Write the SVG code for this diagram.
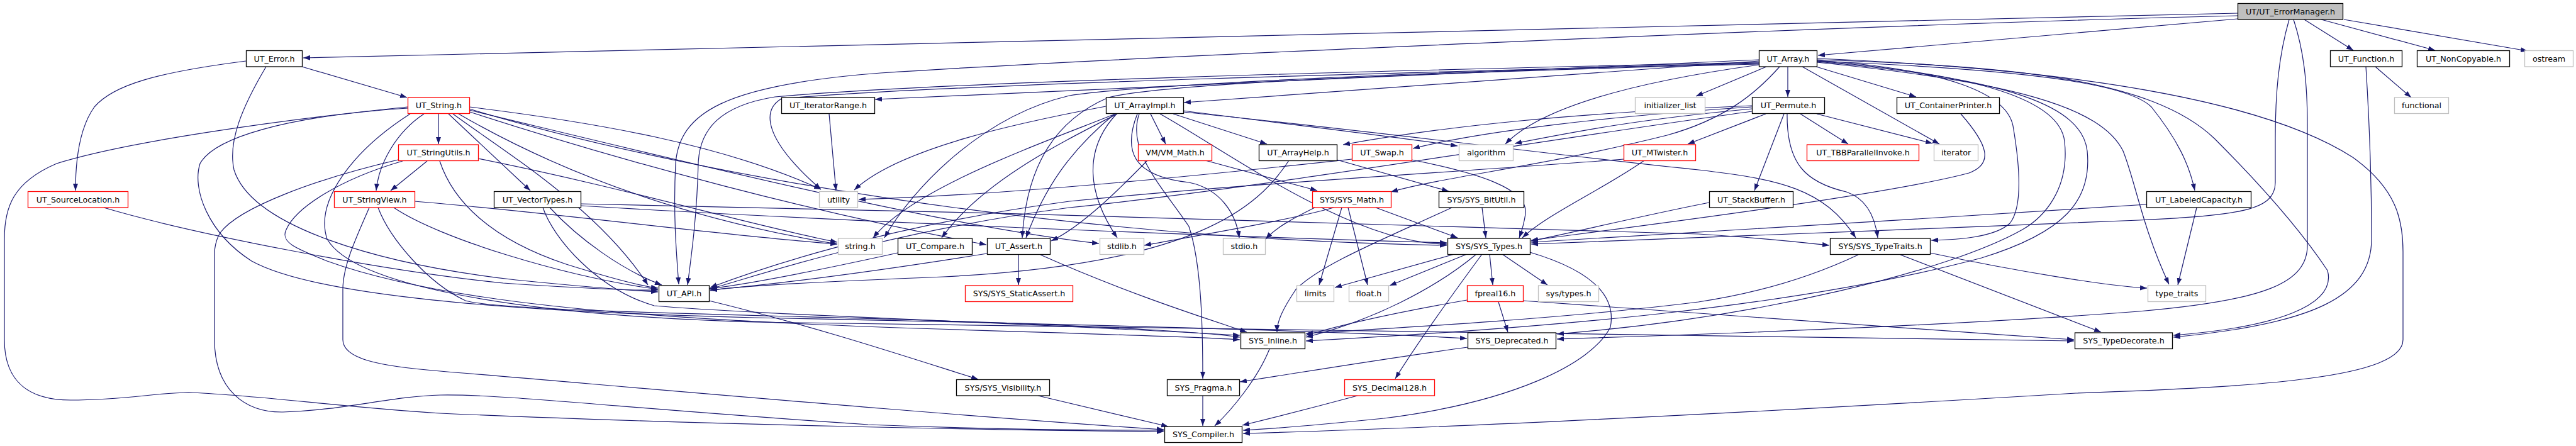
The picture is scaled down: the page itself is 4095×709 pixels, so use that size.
<svg xmlns="http://www.w3.org/2000/svg" width="4095" height="709" viewBox="0 0 4095 709">
<defs>
<marker id="a" viewBox="0 0 11 8" refX="11" refY="4" markerWidth="11" markerHeight="8" markerUnits="userSpaceOnUse" orient="auto"><path d="M0,0 L11,4 L0,8 z" fill="#191970"/></marker>
</defs>
<style>
.nd rect{fill:#fff;stroke:#000;stroke-width:1.3}
.nd.red rect{stroke:#ff0000}
.nd.ext rect{stroke:#bfbfbf}
.nd.root rect{fill:#bfbfbf}
.nd text{font-family:"DejaVu Sans","Liberation Sans",sans-serif;font-size:12.7px;text-anchor:middle;fill:#000}
#edges path{fill:none;stroke:#191970;stroke-width:1.2;marker-end:url(#a)}
</style>
<rect width="4095" height="709" fill="#fff"/>
<g id="edges">
<path d="M3557,21 L482,92"/>
<path d="M3557,25 C3000,38 1800,90 1400,116 C1150,135 1080,180 1074,260 C1070,340 1075,400 1079,452"/>
<path d="M3557,30 L2890,88"/>
<path d="M3663,31 L3741,80"/>
<path d="M3690,31 L3871,80"/>
<path d="M3726,31 L4018,81"/>
<path d="M3639,31 C3622,90 3617,150 3617,220 L3617,290 C3617,335 3560,342 3400,350 C3100,362 2700,378 2434,388"/>
<path d="M3646,31 C3662,80 3668,130 3668,200 L3668,390 C3668,450 3600,478 3400,495 C3100,518 2700,532 2475,539"/>
<path d="M480,106 L647,155"/>
<path d="M391,97 C250,115 180,135 150,170 C125,205 120,260 120,303"/>
<path d="M423,106 C385,170 362,225 372,270 C400,360 600,420 820,445 C950,458 1010,462 1046,464"/>
<path d="M3776,106 L3833,155"/>
<path d="M3761,106 C3767,200 3770,300 3770,380 C3770,470 3680,515 3455,536"/>
<path d="M2796,95 L1391,158"/>
<path d="M2796,97 L1882,163"/>
<path d="M2842,106 L2842,154"/>
<path d="M2887,106 L3046,154"/>
<path d="M2865,106 L3083,229"/>
<path d="M2808,106 L2696,153"/>
<path d="M2796,103 C2600,130 2450,170 2393,229"/>
<path d="M2796,99 C2200,112 1500,130 1232,154 C1145,168 1112,205 1110,260 C1108,340 1100,400 1093,453"/>
<path d="M2796,101 C2200,116 1500,134 1242,157 C1212,175 1212,220 1305,301"/>
<path d="M2796,100 C2300,112 1800,135 1700,152 C1560,185 1450,300 1406,378"/>
<path d="M2796,102 C2300,114 1850,132 1762,155 C1680,190 1632,260 1625,378"/>
<path d="M2888,97 C3200,110 3380,130 3420,170 C3460,220 3480,260 3489,303"/>
<path d="M2888,95 C3200,105 3420,125 3520,220 C3600,300 3660,370 3700,430 C3715,485 3620,520 3455,533"/>
<path d="M2888,93 C3300,110 3600,160 3740,250 C3810,300 3820,350 3820,400 L3820,540 C3820,600 3600,615 3300,625 C2800,655 2300,680 1976,689"/>
<path d="M2888,99 C3200,130 3340,170 3375,240 C3395,290 3405,360 3448,452"/>
<path d="M2888,96 C3100,110 3190,150 3200,200 C3212,270 3215,330 3195,355 C3170,378 3110,381 3070,382"/>
<path d="M2888,97 C3150,118 3275,160 3282,225 C3290,300 3250,345 3215,365 C3100,430 2800,505 2475,531"/>
<path d="M2888,98 C3200,125 3310,170 3318,240 C3326,320 3280,370 3150,410 C2850,490 2450,522 2076,542"/>
<path d="M2829,106 C2790,150 2740,190 2650,215 C2450,265 2300,280 2211,305"/>
<path d="M1829,181 L1853,229"/>
<path d="M1865,181 L2014,229"/>
<path d="M1881,176 C2050,198 2200,215 2317,232"/>
<path d="M1758,169 C1620,195 1430,235 1358,302"/>
<path d="M1773,181 C1650,230 1450,300 1388,378"/>
<path d="M1776,181 C1680,230 1560,290 1497,378"/>
<path d="M1772,181 C1700,240 1660,300 1631,378"/>
<path d="M1775,181 C1720,240 1730,310 1776,378"/>
<path d="M1808,181 C1785,240 1800,280 1890,290 C1940,300 1965,340 1970,378"/>
<path d="M1811,181 C1790,240 1850,300 1890,360 C1910,420 1912,520 1912,602"/>
<path d="M1844,181 C1950,240 2150,388 2300,388"/>
<path d="M1881,178 C2200,210 2500,250 2700,270 C2830,285 2900,300 2950,378"/>
<path d="M1916,255 L2094,303"/>
<path d="M1824,255 C1780,300 1720,360 1671,383"/>
<path d="M2125,254 L2303,304"/>
<path d="M2049,255 C2000,330 1900,420 1500,440 C1300,448 1160,455 1129,462"/>
<path d="M2244,254 C2350,275 2430,300 2425,340 C2422,360 2418,370 2415,378"/>
<path d="M2149,253 C1900,280 1600,310 1365,317"/>
<path d="M2836,181 L2789,303"/>
<path d="M2841,181 C2840,260 2870,290 2935,305 C2965,315 2980,340 2985,378"/>
<path d="M2862,181 L2938,229"/>
<path d="M2888,181 L3072,228"/>
<path d="M2785,168 C2500,180 2300,200 2135,230"/>
<path d="M2785,170 C2550,185 2350,210 2246,236"/>
<path d="M2785,173 C2600,190 2500,210 2408,228"/>
<path d="M2785,177 C2400,230 2000,300 1700,330 C1400,370 1200,440 1129,459"/>
<path d="M2807,181 L2683,229"/>
<path d="M2614,255 C2550,300 2460,340 2420,378"/>
<path d="M2581,253 C2300,275 2000,290 1700,320 C1400,360 1200,430 1129,457"/>
<path d="M2717,322 C2600,345 2500,370 2434,383"/>
<path d="M3492,330 L3462,453"/>
<path d="M3412,325 C3100,345 2700,370 2434,385"/>
<path d="M3117,181 C3160,230 3170,260 3130,275 C3000,310 2600,360 2434,382"/>
<path d="M1318,181 L1329,303"/>
<path d="M2133,330 L2097,453"/>
<path d="M2143,330 L2174,453"/>
<path d="M2187,330 L2317,378"/>
<path d="M2120,330 C2050,350 1900,375 1819,390"/>
<path d="M2090,330 C2060,345 2030,360 2012,380"/>
<path d="M2356,330 L2362,378"/>
<path d="M2308,330 C2200,380 2100,420 2060,460 C2040,490 2030,510 2030,528"/>
<path d="M1427,402 C1300,430 1200,450 1128,459"/>
<path d="M1619,404 L1619,453"/>
<path d="M1654,405 C1800,470 1930,510 1982,528"/>
<path d="M1569,403 C1400,430 1250,450 1129,461"/>
<path d="M2312,404 L2122,457"/>
<path d="M2332,404 L2209,454"/>
<path d="M2347,404 C2280,460 2180,510 2076,536"/>
<path d="M2356,404 C2300,480 2250,550 2218,602"/>
<path d="M2368,404 L2373,453"/>
<path d="M2388,404 L2460,453"/>
<path d="M2432,401 C2530,430 2570,470 2560,520 C2530,580 2400,640 2200,665 C2100,675 2020,682 1976,684"/>
<path d="M3068,402 C3200,430 3350,455 3413,458"/>
<path d="M3021,405 L3340,528"/>
<path d="M2954,405 C2880,440 2800,465 2700,480 C2500,505 2250,520 2076,530"/>
<path d="M2332,477 C2200,500 2120,520 2076,533"/>
<path d="M2382,480 L2397,528"/>
<path d="M2421,478 C2700,500 3000,520 3297,540"/>
<path d="M1127,478 C1300,520 1450,570 1555,603"/>
<path d="M2018,555 C2000,600 1960,650 1931,677"/>
<path d="M2333,552 C2200,570 2050,595 1971,607"/>
<path d="M1912,629 L1912,677"/>
<path d="M1650,629 L1857,678"/>
<path d="M2158,629 C2080,650 2020,665 1975,676"/>
<path d="M165,330 C300,370 600,430 800,450 C950,460 1010,462 1046,461"/>
<path d="M697,181 L697,229"/>
<path d="M674,181 C630,210 602,260 598,303"/>
<path d="M713,181 L843,303"/>
<path d="M720,181 C800,240 950,330 1030,453"/>
<path d="M746,170 C950,195 1150,230 1305,301"/>
<path d="M729,181 C900,280 1100,350 1331,388"/>
<path d="M747,178 C1000,260 1300,340 1568,389"/>
<path d="M746,175 C1100,260 1500,360 1747,387"/>
<path d="M746,173 C1100,280 1700,380 2300,390"/>
<path d="M648,170 C450,190 200,225 90,260 C20,290 7,330 7,380 L7,540 C7,610 50,636 112,636 C200,636 250,624 300,624 C400,627 550,648 700,657 C1100,675 1600,684 1850,686"/>
<path d="M648,172 C450,185 340,220 318,260 C305,300 330,370 400,415 C500,470 800,495 1200,505 C1700,515 2100,525 2332,538"/>
<path d="M652,181 C560,240 500,320 520,380 C560,450 800,500 1200,512 C2000,530 2800,535 3297,542"/>
<path d="M679,256 L621,303"/>
<path d="M633,254 C500,285 380,330 350,370 C338,390 341,410 341,440 L341,540 C341,620 390,656 450,655 C550,652 620,630 700,628 C800,626 1000,650 1380,675 C1600,684 1780,684 1850,684"/>
<path d="M640,256 C540,285 470,330 455,365 C445,385 470,395 520,415 C700,480 1000,505 1400,520 C1700,530 1900,535 1971,540"/>
<path d="M699,256 C720,320 780,380 900,420 C980,445 1020,455 1046,458"/>
<path d="M760,252 C1000,300 1200,360 1331,385"/>
<path d="M587,330 C570,370 545,420 545,460 L545,540 C545,570 600,582 700,590 C1000,615 1500,660 1850,683"/>
<path d="M601,330 C620,380 680,450 740,478 C800,495 1200,500 1500,510 C1800,520 1930,530 1971,536"/>
<path d="M626,330 C700,380 900,440 1046,460"/>
<path d="M659,320 C900,340 1150,375 1331,388"/>
<path d="M874,330 C920,380 990,430 1052,453"/>
<path d="M863,330 C880,380 950,460 1040,486 C1200,500 1600,512 1971,533"/>
<path d="M923,327 C1300,350 1900,375 2300,386"/>
<path d="M923,324 C1500,335 2400,360 2700,372 C2800,378 2860,385 2908,390"/>
</g>
<g id="n_em" class="nd root"><rect x="3557.5" y="5.5" width="167" height="25.5"/><text x="3641" y="22.5">UT/UT_ErrorManager.h</text></g>
<g id="n_error" class="nd"><rect x="391.5" y="80.5" width="89" height="25.5"/><text x="436" y="97.5">UT_Error.h</text></g>
<g id="n_array" class="nd"><rect x="2796.5" y="80.5" width="92" height="25.5"/><text x="2842.5" y="97.5">UT_Array.h</text></g>
<g id="n_function" class="nd"><rect x="3704.5" y="80.5" width="114" height="25.5"/><text x="3761.5" y="97.5">UT_Function.h</text></g>
<g id="n_noncopyable" class="nd"><rect x="3842.5" y="80.5" width="147" height="25.5"/><text x="3916" y="97.5">UT_NonCopyable.h</text></g>
<g id="n_ostream" class="nd ext"><rect x="4013.5" y="80.5" width="77" height="25.5"/><text x="4052" y="97.5">ostream</text></g>
<g id="n_string" class="nd red"><rect x="648.5" y="155" width="98" height="25.5"/><text x="697.5" y="172">UT_String.h</text></g>
<g id="n_iterrange" class="nd"><rect x="1242.5" y="155" width="148" height="25.5"/><text x="1316.5" y="172">UT_IteratorRange.h</text></g>
<g id="n_arrayimpl" class="nd"><rect x="1758.5" y="155" width="123" height="25.5"/><text x="1820" y="172">UT_ArrayImpl.h</text></g>
<g id="n_permute" class="nd"><rect x="2785.5" y="155" width="115" height="25.5"/><text x="2843" y="172">UT_Permute.h</text></g>
<g id="n_containerprinter" class="nd"><rect x="3015.5" y="155" width="163" height="25.5"/><text x="3097" y="172">UT_ContainerPrinter.h</text></g>
<g id="n_initlist" class="nd ext"><rect x="2599.5" y="155" width="111" height="25.5"/><text x="2655" y="172">initializer_list</text></g>
<g id="n_functional" class="nd ext"><rect x="3806.5" y="155" width="86" height="25.5"/><text x="3849.5" y="172">functional</text></g>
<g id="n_stringutils" class="nd red"><rect x="633.5" y="230" width="127" height="25.5"/><text x="697" y="247">UT_StringUtils.h</text></g>
<g id="n_vmmath" class="nd red"><rect x="1809.5" y="230" width="117" height="25.5"/><text x="1868" y="247">VM/VM_Math.h</text></g>
<g id="n_arrayhelp" class="nd"><rect x="2001.5" y="230" width="124" height="25.5"/><text x="2063.5" y="247">UT_ArrayHelp.h</text></g>
<g id="n_swap" class="nd red"><rect x="2149.5" y="230" width="95" height="25.5"/><text x="2197" y="247">UT_Swap.h</text></g>
<g id="n_algorithm" class="nd ext"><rect x="2319.5" y="230" width="86" height="25.5"/><text x="2362.5" y="247">algorithm</text></g>
<g id="n_mtwister" class="nd red"><rect x="2581.5" y="230" width="114" height="25.5"/><text x="2638.5" y="247">UT_MTwister.h</text></g>
<g id="n_tbb" class="nd red"><rect x="2872.5" y="230" width="178" height="25.5"/><text x="2961.5" y="247">UT_TBBParallelInvoke.h</text></g>
<g id="n_iterator" class="nd ext"><rect x="3074.5" y="230" width="70" height="25.5"/><text x="3109.5" y="247">iterator</text></g>
<g id="n_sourceloc" class="nd red"><rect x="44.5" y="304.5" width="159" height="25.5"/><text x="124" y="321.5">UT_SourceLocation.h</text></g>
<g id="n_stringview" class="nd red"><rect x="531.5" y="304.5" width="128" height="25.5"/><text x="595.5" y="321.5">UT_StringView.h</text></g>
<g id="n_vectortypes" class="nd"><rect x="785.5" y="304.5" width="138" height="25.5"/><text x="854.5" y="321.5">UT_VectorTypes.h</text></g>
<g id="n_utility" class="nd ext"><rect x="1302.5" y="304.5" width="61" height="25.5"/><text x="1333" y="321.5">utility</text></g>
<g id="n_sysmath" class="nd red"><rect x="2086.5" y="304.5" width="125" height="25.5"/><text x="2149" y="321.5">SYS/SYS_Math.h</text></g>
<g id="n_bitutil" class="nd"><rect x="2287.5" y="304.5" width="135" height="25.5"/><text x="2355" y="321.5">SYS/SYS_BitUtil.h</text></g>
<g id="n_stackbuffer" class="nd"><rect x="2717.5" y="304.5" width="133" height="25.5"/><text x="2784" y="321.5">UT_StackBuffer.h</text></g>
<g id="n_labeledcap" class="nd"><rect x="3412.5" y="304.5" width="166" height="25.5"/><text x="3495.5" y="321.5">UT_LabeledCapacity.h</text></g>
<g id="n_stringh" class="nd ext"><rect x="1332.5" y="379" width="70" height="25.5"/><text x="1367.5" y="396">string.h</text></g>
<g id="n_compare" class="nd"><rect x="1427.5" y="379" width="118" height="25.5"/><text x="1486.5" y="396">UT_Compare.h</text></g>
<g id="n_assert" class="nd"><rect x="1569.5" y="379" width="100" height="25.5"/><text x="1619.5" y="396">UT_Assert.h</text></g>
<g id="n_stdlib" class="nd ext"><rect x="1748.5" y="379" width="70" height="25.5"/><text x="1783.5" y="396">stdlib.h</text></g>
<g id="n_stdio" class="nd ext"><rect x="1944.5" y="379" width="67" height="25.5"/><text x="1978" y="396">stdio.h</text></g>
<g id="n_systypes" class="nd"><rect x="2301.5" y="379" width="131" height="25.5"/><text x="2367" y="396">SYS/SYS_Types.h</text></g>
<g id="n_typetraits" class="nd"><rect x="2909.5" y="379" width="159" height="25.5"/><text x="2989" y="396">SYS/SYS_TypeTraits.h</text></g>
<g id="n_api" class="nd"><rect x="1047.5" y="454" width="80" height="25.5"/><text x="1087.5" y="471">UT_API.h</text></g>
<g id="n_staticassert" class="nd red"><rect x="1534.5" y="454" width="171" height="25.5"/><text x="1620" y="471">SYS/SYS_StaticAssert.h</text></g>
<g id="n_limits" class="nd ext"><rect x="2061.5" y="454" width="59" height="25.5"/><text x="2091" y="471">limits</text></g>
<g id="n_float" class="nd ext"><rect x="2144.5" y="454" width="63" height="25.5"/><text x="2176" y="471">float.h</text></g>
<g id="n_fpreal16" class="nd red"><rect x="2332.5" y="454" width="89" height="25.5"/><text x="2377" y="471">fpreal16.h</text></g>
<g id="n_sys_types" class="nd ext"><rect x="2445.5" y="454" width="96" height="25.5"/><text x="2493.5" y="471">sys/types.h</text></g>
<g id="n_type_traits" class="nd ext"><rect x="3414.5" y="454" width="92" height="25.5"/><text x="3460.5" y="471">type_traits</text></g>
<g id="n_inline" class="nd"><rect x="1972.5" y="529" width="102" height="25.5"/><text x="2023.5" y="546">SYS_Inline.h</text></g>
<g id="n_deprecated" class="nd"><rect x="2333.5" y="529" width="140" height="25.5"/><text x="2403.5" y="546">SYS_Deprecated.h</text></g>
<g id="n_typedecorate" class="nd"><rect x="3298.5" y="529" width="155" height="25.5"/><text x="3376" y="546">SYS_TypeDecorate.h</text></g>
<g id="n_visibility" class="nd"><rect x="1520.5" y="603.5" width="148" height="25.5"/><text x="1594.5" y="620.5">SYS/SYS_Visibility.h</text></g>
<g id="n_pragma" class="nd"><rect x="1855.5" y="603.5" width="115" height="25.5"/><text x="1913" y="620.5">SYS_Pragma.h</text></g>
<g id="n_decimal128" class="nd red"><rect x="2137.5" y="603.5" width="143" height="25.5"/><text x="2209" y="620.5">SYS_Decimal128.h</text></g>
<g id="n_compiler" class="nd"><rect x="1851.5" y="678" width="123" height="25.5"/><text x="1913" y="695">SYS_Compiler.h</text></g>
</svg>
